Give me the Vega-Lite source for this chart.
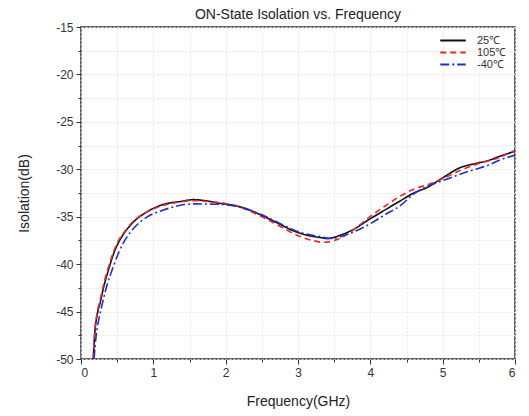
{
  "$schema": "https://vega.github.io/schema/vega-lite/v6.json",
  "autosize": "none",
  "width": 434,
  "height": 332,
  "padding": {"left": 81, "top": 27, "right": 14, "bottom": 57},
  "background": "white",
  "title": {"text": "ON-State Isolation vs. Frequency", "font": "Liberation Sans", "fontSize": 14, "fontWeight": "normal", "color": "#222", "offset": -1, "anchor": "middle"},
  "config": {
    "view": {"stroke": "#333", "strokeWidth": 1.5},
    "axis": {"labelFont": "Liberation Sans", "titleFont": "Liberation Sans", "labelFontSize": 12, "titleFontSize": 14, "titleFontWeight": "normal", "labelColor": "#333", "titleColor": "#222", "domainColor": "#333", "tickColor": "#333", "gridColor": "#e6e6e6", "gridDash": [2, 2], "gridWidth": 1}
  },
  "data": {"values": [
    {"f": 0.17, "db": -50, "s": "25℃"},
    {"f": 0.19, "db": -47.3, "s": "25℃"},
    {"f": 0.22, "db": -45.5, "s": "25℃"},
    {"f": 0.27, "db": -43.9, "s": "25℃"},
    {"f": 0.32, "db": -42.2, "s": "25℃"},
    {"f": 0.38, "db": -40.6, "s": "25℃"},
    {"f": 0.45, "db": -38.9, "s": "25℃"},
    {"f": 0.52, "db": -37.7, "s": "25℃"},
    {"f": 0.59, "db": -36.8, "s": "25℃"},
    {"f": 0.72, "db": -35.6, "s": "25℃"},
    {"f": 0.91, "db": -34.5, "s": "25℃"},
    {"f": 1.14, "db": -33.7, "s": "25℃"},
    {"f": 1.37, "db": -33.4, "s": "25℃"},
    {"f": 1.56, "db": -33.2, "s": "25℃"},
    {"f": 1.75, "db": -33.35, "s": "25℃"},
    {"f": 1.93, "db": -33.6, "s": "25℃"},
    {"f": 2.11, "db": -33.8, "s": "25℃"},
    {"f": 2.3, "db": -34.2, "s": "25℃"},
    {"f": 2.48, "db": -34.8, "s": "25℃"},
    {"f": 2.7, "db": -35.6, "s": "25℃"},
    {"f": 2.94, "db": -36.5, "s": "25℃"},
    {"f": 3.1, "db": -36.9, "s": "25℃"},
    {"f": 3.31, "db": -37.2, "s": "25℃"},
    {"f": 3.4, "db": -37.3, "s": "25℃"},
    {"f": 3.6, "db": -36.9, "s": "25℃"},
    {"f": 3.8, "db": -36.2, "s": "25℃"},
    {"f": 3.96, "db": -35.4, "s": "25℃"},
    {"f": 4.2, "db": -34.3, "s": "25℃"},
    {"f": 4.42, "db": -33.3, "s": "25℃"},
    {"f": 4.6, "db": -32.5, "s": "25℃"},
    {"f": 4.79, "db": -31.9, "s": "25℃"},
    {"f": 5.0, "db": -30.9, "s": "25℃"},
    {"f": 5.25, "db": -29.8, "s": "25℃"},
    {"f": 5.45, "db": -29.4, "s": "25℃"},
    {"f": 5.62, "db": -29.1, "s": "25℃"},
    {"f": 5.8, "db": -28.6, "s": "25℃"},
    {"f": 6.0, "db": -28.1, "s": "25℃"},
    {"f": 0.17, "db": -50, "s": "105℃"},
    {"f": 0.19, "db": -47.1, "s": "105℃"},
    {"f": 0.22, "db": -45.3, "s": "105℃"},
    {"f": 0.27, "db": -43.6, "s": "105℃"},
    {"f": 0.32, "db": -41.9, "s": "105℃"},
    {"f": 0.38, "db": -40.3, "s": "105℃"},
    {"f": 0.45, "db": -38.7, "s": "105℃"},
    {"f": 0.52, "db": -37.5, "s": "105℃"},
    {"f": 0.59, "db": -36.7, "s": "105℃"},
    {"f": 0.72, "db": -35.5, "s": "105℃"},
    {"f": 0.91, "db": -34.5, "s": "105℃"},
    {"f": 1.14, "db": -33.8, "s": "105℃"},
    {"f": 1.37, "db": -33.45, "s": "105℃"},
    {"f": 1.56, "db": -33.3, "s": "105℃"},
    {"f": 1.75, "db": -33.4, "s": "105℃"},
    {"f": 2.0, "db": -33.6, "s": "105℃"},
    {"f": 2.2, "db": -34.0, "s": "105℃"},
    {"f": 2.5, "db": -35.0, "s": "105℃"},
    {"f": 2.75, "db": -36.0, "s": "105℃"},
    {"f": 3.0, "db": -37.0, "s": "105℃"},
    {"f": 3.2, "db": -37.5, "s": "105℃"},
    {"f": 3.35, "db": -37.7, "s": "105℃"},
    {"f": 3.6, "db": -37.2, "s": "105℃"},
    {"f": 3.8, "db": -36.2, "s": "105℃"},
    {"f": 3.96, "db": -35.2, "s": "105℃"},
    {"f": 4.2, "db": -33.9, "s": "105℃"},
    {"f": 4.42, "db": -32.8, "s": "105℃"},
    {"f": 4.6, "db": -32.1, "s": "105℃"},
    {"f": 4.8, "db": -31.6, "s": "105℃"},
    {"f": 5.0, "db": -31.0, "s": "105℃"},
    {"f": 5.25, "db": -30.1, "s": "105℃"},
    {"f": 5.5, "db": -29.4, "s": "105℃"},
    {"f": 5.8, "db": -28.7, "s": "105℃"},
    {"f": 6.0, "db": -28.0, "s": "105℃"},
    {"f": 0.18, "db": -50, "s": "-40℃"},
    {"f": 0.21, "db": -47.5, "s": "-40℃"},
    {"f": 0.25, "db": -45.7, "s": "-40℃"},
    {"f": 0.3, "db": -44.0, "s": "-40℃"},
    {"f": 0.36, "db": -42.2, "s": "-40℃"},
    {"f": 0.45, "db": -40.2, "s": "-40℃"},
    {"f": 0.52, "db": -38.8, "s": "-40℃"},
    {"f": 0.59, "db": -37.7, "s": "-40℃"},
    {"f": 0.72, "db": -36.3, "s": "-40℃"},
    {"f": 0.91, "db": -35.05, "s": "-40℃"},
    {"f": 1.14, "db": -34.3, "s": "-40℃"},
    {"f": 1.37, "db": -33.8, "s": "-40℃"},
    {"f": 1.56, "db": -33.65, "s": "-40℃"},
    {"f": 1.93, "db": -33.7, "s": "-40℃"},
    {"f": 2.2, "db": -34.0, "s": "-40℃"},
    {"f": 2.5, "db": -34.8, "s": "-40℃"},
    {"f": 2.75, "db": -35.7, "s": "-40℃"},
    {"f": 2.94, "db": -36.4, "s": "-40℃"},
    {"f": 3.1, "db": -36.8, "s": "-40℃"},
    {"f": 3.3, "db": -37.1, "s": "-40℃"},
    {"f": 3.45, "db": -37.3, "s": "-40℃"},
    {"f": 3.7, "db": -36.8, "s": "-40℃"},
    {"f": 3.96, "db": -35.9, "s": "-40℃"},
    {"f": 4.2, "db": -34.8, "s": "-40℃"},
    {"f": 4.42, "db": -33.8, "s": "-40℃"},
    {"f": 4.6, "db": -32.6, "s": "-40℃"},
    {"f": 4.79, "db": -31.8, "s": "-40℃"},
    {"f": 5.0, "db": -31.2, "s": "-40℃"},
    {"f": 5.25, "db": -30.5, "s": "-40℃"},
    {"f": 5.45, "db": -30.0, "s": "-40℃"},
    {"f": 5.62, "db": -29.6, "s": "-40℃"},
    {"f": 5.8, "db": -29.0, "s": "-40℃"},
    {"f": 6.0, "db": -28.5, "s": "-40℃"}
  ]},
  "mark": {"type": "line", "strokeWidth": 1.6, "clip": true, "interpolate": "monotone"},
  "encoding": {
    "x": {"field": "f", "type": "quantitative", "title": "Frequency(GHz)",
      "scale": {"domain": [0, 6], "nice": false},
      "axis": {"values": [0, 0.5, 1, 1.5, 2, 2.5, 3, 3.5, 4, 4.5, 5, 5.5, 6],
        "labelExpr": "datum.value % 1 === 0 ? '' + datum.value : ''",
        "tickSize": {"condition": {"test": "datum.value % 1 === 0", "value": 5}, "value": 3},
        "grid": true, "labelPadding": 3, "titlePadding": 16, "domain": false}},
    "y": {"field": "db", "type": "quantitative", "title": "Isolation(dB)",
      "scale": {"domain": [-50, -15], "nice": false},
      "axis": {"values": [-50, -47.5, -45, -42.5, -40, -37.5, -35, -32.5, -30, -27.5, -25, -22.5, -20, -17.5, -15],
        "labelExpr": "datum.value % 5 === 0 ? '' + datum.value : ''",
        "tickSize": {"condition": {"test": "datum.value % 5 === 0", "value": 5}, "value": 3},
        "grid": true, "labelPadding": 3, "titlePadding": 24, "domain": false}},
    "color": {"field": "s", "type": "nominal",
      "scale": {"domain": ["25℃", "105℃", "-40℃"], "range": ["#111111", "#e8282a", "#1f2fc8"]},
      "legend": {"title": null, "orient": "top-right", "symbolType": "stroke", "symbolSize": 650, "symbolStrokeWidth": 2, "labelFont": "Liberation Sans", "labelFontSize": 11, "labelColor": "#333", "clipHeight": 11, "rowPadding": 0, "labelOffset": 10, "offset": 6, "padding": 2}},
    "strokeDash": {"field": "s", "type": "nominal",
      "scale": {"domain": ["25℃", "105℃", "-40℃"], "range": [[1, 0], [6, 4], [9, 3, 2, 3]]},
      "legend": null}
  }
}
